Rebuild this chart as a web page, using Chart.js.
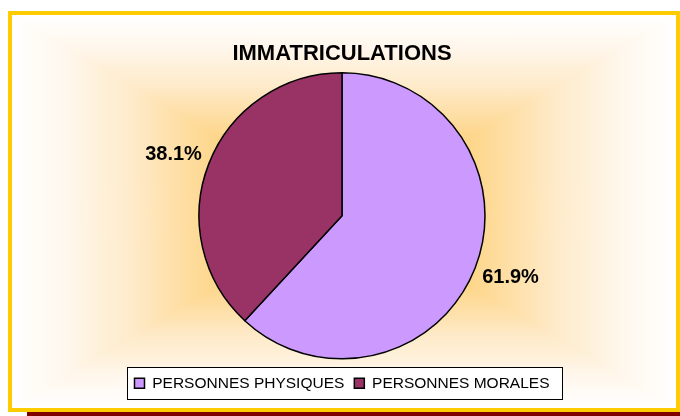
<!DOCTYPE html>
<html>
<head>
<meta charset="utf-8">
<script src="https://cdn.jsdelivr.net/npm/chart.js@4.4.1/dist/chart.umd.min.js"></script>
<style>
  html, body { margin: 0; padding: 0; background: #fff; }
  #frame {
    position: absolute; left: 8px; top: 11px; width: 672px; height: 401px;
    box-sizing: border-box; border: 4px solid #FFCC00;
    box-shadow: 19px 4px 0 #800000;
    background:
      linear-gradient(to right, #FFFFFF 0%, #FFFBF6 4%, #FFF6EA 9%, #FEF0D8 13.5%, #FEEBCB 18%, #FEE2B0 23%, #FDD68A 31%, #FED07A 40%, #FFCC6C 50%, #FED07A 60%, #FDD68A 69%, #FEE2B0 77%, #FEEBCB 82%, #FEF0D8 86.5%, #FFF6EA 91%, #FFFBF6 96%, #FFFFFF 100%),
      linear-gradient(to bottom, #FFFFFF 0%, #FFFBF6 4%, #FFF6EA 9%, #FEF0D8 13.5%, #FEEBCB 18%, #FEE2B0 23%, #FDD68A 31%, #FED07A 40%, #FFCC6C 50%, #FED07A 60%, #FDD68A 69%, #FEE2B0 77%, #FEEBCB 82%, #FEF0D8 86.5%, #FFF6EA 91%, #FFFBF6 96%, #FFFFFF 100%);
    background-blend-mode: lighten;
  }
  #chart { position: absolute; left: 0; top: 0; }
</style>
</head>
<body>
<div id="frame"></div>
<canvas id="chart" width="680" height="416"></canvas>
<script>
const categories = ["PERSONNES PHYSIQUES", "PERSONNES MORALES"]
const shares = [61.9, 38.1]
const sliceColors = ["#CC99FF", "#993366"]

// percentage labels outside each slice
const outsideLabels = {
  id: "outsideLabels",
  afterDatasetsDraw(chart) {
    const ctx = chart.ctx
    const meta = chart.getDatasetMeta(0)
    const values = chart.data.datasets[0].data
    const total = values.reduce((a, b) => a + b, 0)
    ctx.save()
    ctx.font = "bold 20px 'Liberation Sans', Arial, sans-serif"
    ctx.fillStyle = "#000"
    ctx.textAlign = "center"
    ctx.textBaseline = "middle"
    meta.data.forEach((arc, i) => {
      const p = arc.getProps(["x", "y", "startAngle", "endAngle", "outerRadius"], true)
      const mid = (p.startAngle + p.endAngle) / 2
      const r = p.outerRadius + 38
      const text = (values[i] / total * 100).toFixed(1) + "%"
      ctx.fillText(text, p.x + Math.cos(mid) * r, p.y + Math.sin(mid) * r * 0.93)
    })
    ctx.restore()
  }
}

// white box with a border behind the legend
const legendBox = {
  id: "legendBox",
  beforeDraw(chart) {
    const boxes = chart.legend.legendHitBoxes
    if (!boxes || !boxes.length) return
    const first = boxes[0]
    const last = boxes[boxes.length - 1]
    const ctx = chart.ctx
    ctx.save()
    ctx.strokeStyle = "#000"
    ctx.lineWidth = 1
    const x0 = Math.round(first.left - 7) + 0.5
    const x1 = Math.round(last.left + last.width + 12) + 0.5
    const y0 = Math.round(first.top - 9) + 0.5
    const y1 = Math.round(first.top + first.height + 8) + 0.5
    ctx.fillStyle = "#fff"
    ctx.fillRect(x0, y0, x1 - x0, y1 - y0)
    ctx.strokeRect(x0, y0, x1 - x0, y1 - y0)
    ctx.restore()
  }
}

Chart.defaults.font.family = "'Liberation Sans', Arial, sans-serif"
Chart.defaults.color = "#000"

new Chart(document.getElementById("chart"), {
  type: "pie",
  data: {
    labels: categories,
    datasets: [{
      data: shares,
      backgroundColor: sliceColors,
      borderColor: "#000",
      borderWidth: 1.5,
      hoverBorderWidth: 1.5,
      radius: 143
    }]
  },
  options: {
    responsive: false,
    animation: false,
    events: [],
    layout: { padding: { left: 4, right: 0, top: 0, bottom: 15 } },
    plugins: {
      title: {
        display: true,
        text: "IMMATRICULATIONS",
        font: { size: 22, weight: "bold", lineHeight: 1.1 },
        padding: { top: 42, bottom: 0 }
      },
      legend: {
        position: "bottom",
        labels: {
          boxWidth: 10,
          boxHeight: 10,
          padding: 10,
          font: { size: 15.5 },
          color: "#000"
        }
      },
      tooltip: { enabled: false }
    }
  },
  plugins: [outsideLabels, legendBox]
})
</script>
</body>
</html>
